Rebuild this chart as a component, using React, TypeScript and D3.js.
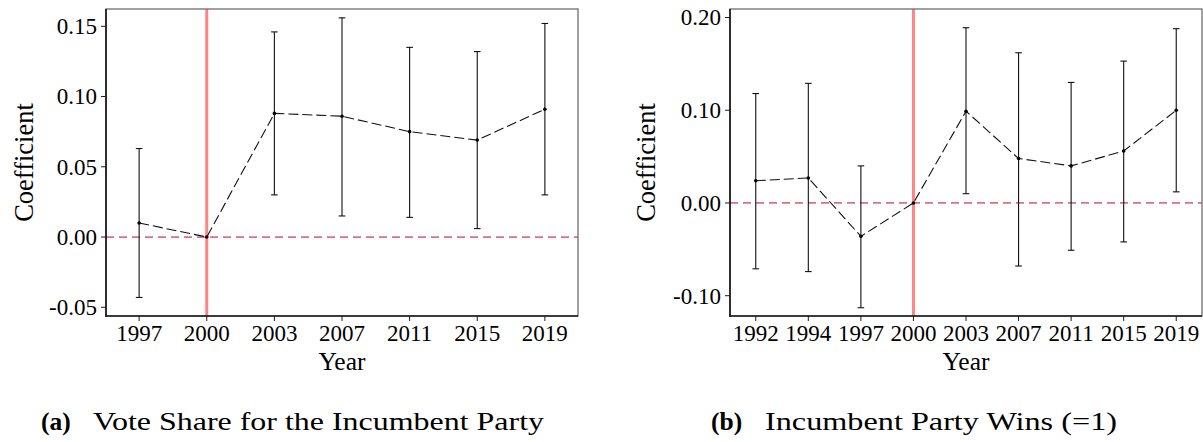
import React from "react";
import * as d3 from "d3";

// Panel (a): vote share for the incumbent party, event-study coefficients
const yearsA = ["1997", "2000", "2003", "2007", "2011", "2015", "2019"];
const coefA = [0.010, 0.0, 0.088, 0.086, 0.075, 0.069, 0.091];
const lowA = [-0.043, 0.0, 0.030, 0.015, 0.014, 0.006, 0.030];
const highA = [0.063, 0.0, 0.146, 0.156, 0.135, 0.132, 0.152];
const ticksA = [-0.05, 0.0, 0.05, 0.1, 0.15];

// Panel (b): incumbent party wins (=1)
const yearsB = ["1992", "1994", "1997", "2000", "2003", "2007", "2011", "2015", "2019"];
const coefB = [0.024, 0.027, -0.036, 0.0, 0.099, 0.048, 0.040, 0.056, 0.100];
const lowB = [-0.071, -0.074, -0.113, 0.0, 0.010, -0.068, -0.051, -0.042, 0.012];
const highB = [0.118, 0.129, 0.040, 0.0, 0.189, 0.162, 0.130, 0.153, 0.188];
const ticksB = [-0.1, 0.0, 0.1, 0.2];

const referenceYear = "2000";
const captionA = { tag: "(a)", text: "Vote Share for the Incumbent Party" };
const captionB = { tag: "(b)", text: "Incumbent Party Wins (=1)" };

const SERIF = "'Liberation Serif', 'Times New Roman', serif";

// two decimals, plain hyphen for negatives
const fmtTick = (v: number) => d3.format(".2f")(v).replace("\u2212", "-");

type PanelProps = {
  years: string[];
  coef: number[];
  low: number[];
  high: number[];
  ticks: number[];
  yDomain: [number, number];
  left: number;
  right: number;
  top: number;
  bottom: number;
  yTitleX: number;
};

function Panel({ years, coef, low, high, ticks, yDomain, left, right, top, bottom, yTitleX }: PanelProps) {
  const x = d3.scalePoint<string>().domain(years).range([left, right]).padding(0.49);
  const y = d3.scaleLinear().domain(yDomain).range([bottom, top]);
  const line = d3
    .line<number>()
    .x((_, i) => x(years[i]) as number)
    .y((d) => y(d));
  const cap = 3.3;

  return (
    <g>
      {/* reference lines */}
      <line x1={left} x2={right} y1={y(0)} y2={y(0)} stroke="#db6f8c" strokeWidth={1.8} strokeDasharray="8,5" />
      <line
        x1={x(referenceYear)}
        x2={x(referenceYear)}
        y1={top}
        y2={bottom}
        stroke="#ff8585"
        strokeWidth={3}
      />
      {/* confidence intervals */}
      {years.map((yr, i) =>
        high[i] === low[i] ? null : (
          <g key={yr} stroke="#111" strokeWidth={1.1}>
            <line x1={x(yr)} x2={x(yr)} y1={y(high[i])} y2={y(low[i])} />
            <line x1={(x(yr) as number) - cap} x2={(x(yr) as number) + cap} y1={y(high[i])} y2={y(high[i])} />
            <line x1={(x(yr) as number) - cap} x2={(x(yr) as number) + cap} y1={y(low[i])} y2={y(low[i])} />
          </g>
        )
      )}
      {/* point estimates */}
      <path d={line(coef) as string} fill="none" stroke="#111" strokeWidth={1.1} strokeDasharray="10,4" />
      {years.map((yr, i) => (
        <circle key={yr} cx={x(yr)} cy={y(coef[i])} r={1.8} fill="#000" />
      ))}
      {/* frame */}
      <rect x={left} y={top} width={right - left} height={bottom - top} fill="none" stroke="#6e6e6e" strokeWidth={1.3} />
      <line x1={left} x2={left} y1={top} y2={bottom + 0.8} stroke="#1a1a1a" strokeWidth={1.7} />
      <line x1={left - 0.8} x2={right} y1={bottom} y2={bottom} stroke="#1a1a1a" strokeWidth={1.7} />
      {/* y axis */}
      {ticks.map((t) => (
        <g key={t}>
          <line x1={left - 5} x2={left} y1={y(t)} y2={y(t)} stroke="#1a1a1a" strokeWidth={1} />
          <text
            x={left - 9}
            y={y(t)}
            dy="0.34em"
            textAnchor="end"
            fontFamily={SERIF}
            fontSize={23}
            fill="#000"
          >
            {fmtTick(t)}
          </text>
        </g>
      ))}
      {/* x axis */}
      {years.map((yr) => (
        <g key={yr}>
          <line x1={x(yr)} x2={x(yr)} y1={bottom} y2={bottom + 5} stroke="#1a1a1a" strokeWidth={1} />
          <text x={x(yr)} y={bottom + 24.8} textAnchor="middle" fontFamily={SERIF} fontSize={23} fill="#000">
            {yr}
          </text>
        </g>
      ))}
      <text x={(left + right) / 2} y={369.5} textAnchor="middle" fontFamily={SERIF} fontSize={25.5} fill="#000">
        Year
      </text>
      <text
        transform={`translate(${yTitleX},${(top + bottom) / 2}) rotate(-90)`}
        textAnchor="middle"
        fontFamily={SERIF}
        fontSize={26.5}
        fill="#000"
      >
        Coefficient
      </text>
    </g>
  );
}

function Caption({ tag, text, tagX, textX, textEnd }: { tag: string; text: string; tagX: number; textX: number; textEnd: number }) {
  return (
    <g fontFamily={SERIF} fontSize={25.5} fill="#000">
      <text x={tagX} y={430} fontWeight="bold">
        {tag}
      </text>
      <text x={textX} y={430} textLength={textEnd - textX} lengthAdjust="spacingAndGlyphs">
        {text}
      </text>
    </g>
  );
}

export default function App() {
  return (
    <svg
      width={1203}
      height={442}
      viewBox="0 0 1203 442"
      style={{ position: "absolute", left: 0, top: 0, background: "#fff" }}
    >
      <rect width={1203} height={442} fill="#fff" />
      <Panel
        years={yearsA}
        coef={coefA}
        low={lowA}
        high={highA}
        ticks={ticksA}
        yDomain={[-0.0562, 0.1623]}
        left={106}
        right={578}
        top={9}
        bottom={316}
        yTitleX={33}
      />
      <Panel
        years={yearsB}
        coef={coefB}
        low={lowB}
        high={highB}
        ticks={ticksB}
        yDomain={[-0.1219, 0.2092]}
        left={730}
        right={1202}
        top={9}
        bottom={316}
        yTitleX={655}
      />
      <Caption tag={captionA.tag} text={captionA.text} tagX={41} textX={93} textEnd={544} />
      <Caption tag={captionB.tag} text={captionB.text} tagX={711} textX={765} textEnd={1117} />
    </svg>
  );
}
